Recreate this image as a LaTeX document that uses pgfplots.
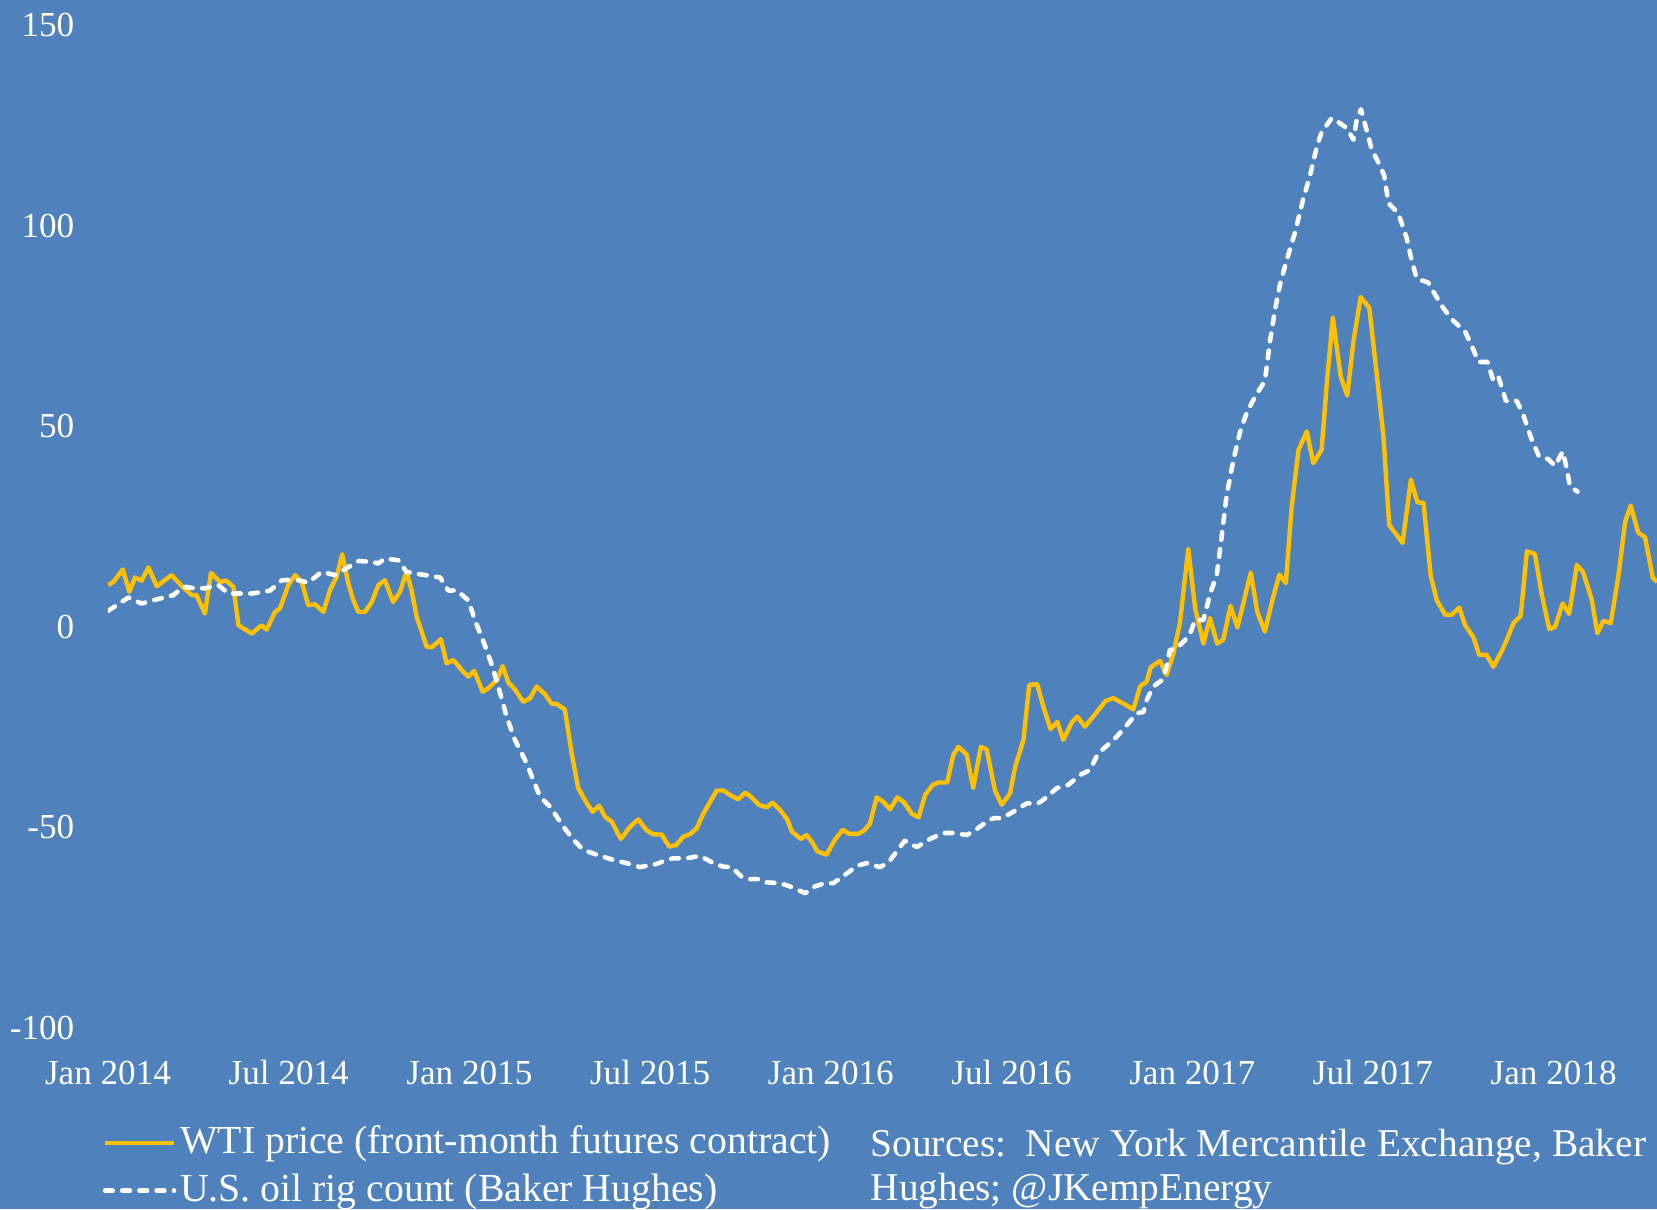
\documentclass[border=0pt]{standalone}
\usepackage{fontspec}
\setmainfont{Liberation Serif}
\usepackage{pgfplots}
\pgfplotsset{compat=1.18}
\definecolor{bgblue}{RGB}{79,129,189}
\definecolor{wtigold}{RGB}{255,192,0}

\begin{document}
\begin{tikzpicture}
\fill[bgblue] (-1.08,-1.81) rectangle (15.49,10.28);
\path[use as bounding box] (-1.08,-1.81) rectangle (15.49,10.28);
\begin{axis}[
  scale only axis, width=15.49cm, height=10.03cm,
  at={(0,0)}, anchor=south west,
  xmin=0, xmax=4.286, ymin=-100, ymax=150,
  axis line style={draw=none},
  major tick length=0pt,
  xtick={0,0.5,1,1.5,2,2.5,3,3.5,4},
  xticklabels={Jan 2014,Jul 2014,Jan 2015,Jul 2015,Jan 2016,Jul 2016,Jan 2017,Jul 2017,Jan 2018},
  ytick={-100,-50,0,50,100,150},
  yticklabels={-100,-50,0,50,100,150},
  ticklabel style={font=\fontsize{10}{12}\selectfont, text=white, inner sep=0pt},
  xticklabel style={anchor=base, yshift=-0.56cm},
  yticklabel style={anchor=east, xshift=-0.33cm},
  legend cell align=left,
  legend image code/.code={\draw[#1] (0cm,0cm) -- (0.69cm,0cm);},
  legend style={
    at={(axis description cs:0,0)}, anchor=north west,
    xshift=-0.06cm, yshift=-0.90cm,
    draw=none, fill=none, inner sep=0pt,
    font=\fontsize{11.3}{13}\selectfont, text=white,
    nodes={inner sep=0pt, text height=0.35cm, text depth=0.13cm},
    /tikz/every odd column/.append style={column sep=0.04cm}},
]
% WTI price, % change on year earlier
\addplot[wtigold, line width=1.25pt, line join=round] coordinates {
(0.001,10.4) (0.015,11.2) (0.041,14.3) (0.059,8.7) (0.075,12.3) (0.093,11.5)
(0.112,14.8) (0.135,10.1) (0.176,12.9) (0.206,10.0) (0.232,7.9) (0.245,7.9)
(0.268,3.3) (0.285,13.4) (0.310,11.2) (0.327,11.5) (0.347,10.0) (0.361,0.4)
(0.398,-1.7) (0.425,0.4) (0.439,-0.7) (0.462,3.7) (0.476,4.6) (0.499,10.4)
(0.518,12.9) (0.536,11.2) (0.554,5.4) (0.573,5.6) (0.596,3.7) (0.614,9.1)
(0.633,12.5) (0.648,18.1) (0.665,10.8) (0.679,6.6) (0.693,3.7) (0.711,3.7)
(0.730,6.2) (0.748,10.4) (0.766,11.6) (0.789,6.2) (0.808,8.7) (0.826,13.7)
(0.840,9.1) (0.854,2.5) (0.882,-5.0) (0.896,-5.1) (0.921,-3.1) (0.937,-9.1)
(0.956,-8.3) (0.983,-11.2) (0.997,-12.4) (1.013,-11.0) (1.037,-16.2) (1.052,-15.3)
(1.076,-13.3) (1.092,-9.8) (1.108,-13.9) (1.126,-15.6) (1.149,-18.7) (1.168,-17.8)
(1.186,-14.9) (1.209,-16.8) (1.228,-19.2) (1.241,-19.2) (1.264,-20.6) (1.283,-31.5)
(1.301,-40.2) (1.325,-44.0) (1.341,-46.1) (1.359,-44.6) (1.375,-47.3) (1.394,-48.6)
(1.419,-52.9) (1.444,-49.9) (1.467,-48.0) (1.491,-50.8) (1.509,-51.7) (1.532,-51.8)
(1.553,-54.8) (1.572,-54.4) (1.592,-52.3) (1.612,-51.6) (1.629,-50.2) (1.647,-46.6)
(1.684,-40.8) (1.703,-40.8) (1.726,-42.2) (1.744,-43.0) (1.763,-41.3) (1.781,-42.5)
(1.802,-44.4) (1.823,-45.0) (1.839,-43.8) (1.859,-45.6) (1.880,-48.1) (1.892,-51.0)
(1.917,-52.9) (1.933,-51.9) (1.947,-53.5) (1.963,-56.0) (1.988,-56.8) (2.011,-53.1)
(2.033,-50.6) (2.051,-51.6) (2.076,-51.6) (2.092,-50.8) (2.108,-49.1) (2.127,-42.5)
(2.145,-43.6) (2.164,-45.5) (2.184,-42.5) (2.203,-43.8) (2.224,-46.6) (2.243,-47.5)
(2.261,-41.9) (2.282,-39.4) (2.298,-38.8) (2.322,-38.8) (2.339,-31.9) (2.353,-29.9)
(2.376,-31.9) (2.394,-40.2) (2.415,-29.9) (2.431,-30.5) (2.454,-40.7) (2.473,-44.4)
(2.496,-41.5) (2.510,-34.9) (2.533,-28.2) (2.549,-14.5) (2.571,-14.3) (2.588,-19.9)
(2.608,-25.5) (2.627,-23.7) (2.643,-28.2) (2.667,-23.8) (2.682,-22.4) (2.703,-24.9)
(2.731,-21.8) (2.761,-18.4) (2.782,-17.8) (2.809,-19.1) (2.837,-20.6) (2.856,-14.8)
(2.874,-13.7) (2.885,-10.1) (2.911,-8.5) (2.929,-12.0) (2.948,-6.6) (2.966,1.0)
(2.989,19.4) (3.008,4.7) (3.031,-4.2) (3.049,2.2) (3.069,-4.2) (3.086,-3.2)
(3.106,5.2) (3.125,-0.2) (3.162,13.5) (3.180,3.7) (3.201,-1.2) (3.223,7.1)
(3.241,13.0) (3.259,10.9) (3.275,29.8) (3.294,44.1) (3.317,48.7) (3.335,40.8)
(3.358,44.1) (3.372,60.3) (3.389,77.1) (3.411,62.3) (3.429,57.6) (3.446,71.1)
(3.466,82.2) (3.490,79.5) (3.510,63.3) (3.529,47.5) (3.545,25.4) (3.582,20.9)
(3.605,36.7) (3.623,31.0) (3.640,30.9) (3.660,12.6) (3.677,6.5) (3.700,3.0)
(3.718,3.0) (3.739,4.8) (3.755,0.4) (3.778,-2.6) (3.794,-7.0) (3.815,-7.0)
(3.833,-10.0) (3.856,-6.1) (3.870,-3.3) (3.889,0.9) (3.909,2.8) (3.926,18.8)
(3.948,18.2) (3.967,8.1) (3.988,-0.6) (4.004,0.0) (4.025,5.8) (4.043,3.2)
(4.064,15.4) (4.081,13.7) (4.105,7.0) (4.121,-1.6) (4.138,1.5) (4.158,0.9)
(4.179,12.6) (4.198,26.2) (4.213,30.2) (4.234,23.5) (4.253,22.3) (4.274,12.3)
(4.286,11.1)
};
\addlegendentry{WTI price (front-month futures contract)}
% US oil rig count, % change on year earlier
\addplot[white, line width=1.3pt, line cap=round, line join=round,
  dash pattern=on 2.2pt off 2.7pt] coordinates {
(0.001,4.0) (0.056,7.3) (0.093,5.8) (0.125,6.6) (0.181,7.9) (0.208,10.0)
(0.241,9.6) (0.268,9.6) (0.305,10.4) (0.333,8.3) (0.398,8.3) (0.448,9.0)
(0.481,11.6) (0.518,11.8) (0.554,11.0) (0.591,13.7) (0.628,12.9) (0.651,14.1)
(0.693,16.4) (0.730,16.2) (0.748,15.8) (0.766,17.0) (0.803,16.6) (0.826,13.7)
(0.863,13.1) (0.919,12.3) (0.942,9.0) (0.965,9.1) (0.997,6.6) (1.015,1.7)
(1.039,-3.7) (1.062,-9.5) (1.080,-14.9) (1.103,-22.4) (1.126,-28.2) (1.154,-33.2)
(1.177,-38.2) (1.195,-42.3) (1.223,-44.8) (1.260,-49.8) (1.288,-53.1) (1.315,-55.6)
(1.352,-56.8) (1.398,-58.1) (1.435,-58.9) (1.472,-59.9) (1.518,-59.1) (1.546,-58.1)
(1.564,-57.7) (1.601,-57.7) (1.638,-57.1) (1.675,-58.9) (1.703,-59.8) (1.726,-59.9)
(1.753,-62.3) (1.776,-62.9) (1.804,-62.9) (1.823,-63.7) (1.859,-63.9) (1.887,-64.7)
(1.929,-66.4) (1.956,-64.7) (1.984,-63.9) (2.007,-63.9) (2.035,-62.1) (2.072,-59.6)
(2.099,-58.9) (2.136,-59.9) (2.159,-58.8) (2.182,-56.0) (2.205,-53.3) (2.238,-54.9)
(2.274,-52.9) (2.311,-51.4) (2.339,-51.4) (2.376,-51.9) (2.404,-50.4) (2.431,-48.6)
(2.450,-47.7) (2.473,-47.7) (2.505,-46.1) (2.542,-44.0) (2.574,-44.0) (2.597,-42.5)
(2.625,-40.2) (2.657,-39.4) (2.690,-36.9) (2.717,-35.7) (2.740,-31.5) (2.763,-29.7)
(2.791,-27.4) (2.819,-24.5) (2.846,-21.6) (2.865,-21.2) (2.874,-18.3) (2.892,-14.9)
(2.916,-13.3) (2.929,-10.0) (2.938,-5.8) (2.957,-5.4) (2.980,-3.3) (2.994,-1.7)
(3.008,1.7) (3.031,1.7) (3.049,8.1) (3.068,13.0) (3.082,22.9) (3.095,32.7)
(3.114,41.6) (3.132,48.5) (3.151,53.4) (3.174,57.4) (3.201,61.3) (3.215,71.1)
(3.229,79.0) (3.243,85.4) (3.261,91.3) (3.284,98.2) (3.307,106.6) (3.326,112.5)
(3.344,119.4) (3.358,123.3) (3.386,126.8) (3.404,125.8) (3.428,124.3) (3.446,121.4)
(3.455,126.3) (3.467,129.0) (3.478,125.3) (3.497,118.9) (3.520,114.9) (3.531,112.5)
(3.543,105.6) (3.570,103.1) (3.593,97.0) (3.607,91.4) (3.621,86.8) (3.653,85.8)
(3.672,82.8) (3.695,79.4) (3.723,76.2) (3.755,73.6) (3.773,70.1) (3.792,66.0)
(3.817,66.0) (3.833,61.4) (3.847,62.4) (3.868,56.3) (3.898,56.3) (3.916,52.8)
(3.939,46.7) (3.960,42.4) (3.985,41.8) (4.004,40.1) (4.025,43.7) (4.036,39.6)
(4.045,35.0) (4.066,33.7)
};
\addlegendentry{U.S. oil rig count (Baker Hughes)}
\end{axis}
\node[anchor=base west, inner sep=0pt, text=white, font=\fontsize{11.2}{13}\selectfont]
  at (7.62,-1.28) {Sources:\ \ New York Mercantile Exchange, Baker};
\node[anchor=base west, inner sep=0pt, text=white, font=\fontsize{11.2}{13}\selectfont]
  at (7.62,-1.72) {Hughes; @JKempEnergy};
\end{tikzpicture}
\end{document}
